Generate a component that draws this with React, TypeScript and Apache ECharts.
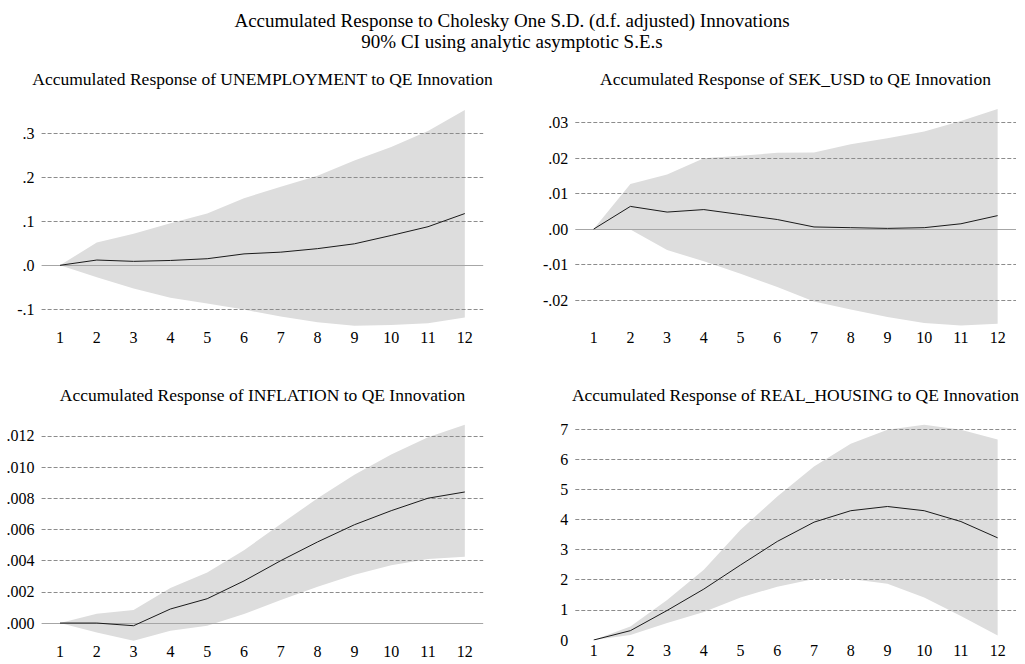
import React, { useEffect, useRef } from "react";
import * as echarts from "echarts";

const periods = ["1", "2", "3", "4", "5", "6", "7", "8", "9", "10", "11", "12"];

const mainTitle1 = "Accumulated Response to Cholesky One S.D. (d.f. adjusted) Innovations";
const mainTitle2 = "90% CI using analytic asymptotic S.E.s";

const panelTitles = [
  "Accumulated Response of UNEMPLOYMENT to QE Innovation",
  "Accumulated Response of SEK_USD to QE Innovation",
  "Accumulated Response of INFLATION to QE Innovation",
  "Accumulated Response of REAL_HOUSING to QE Innovation",
];

const unempResp = [0, 0.012, 0.009, 0.011, 0.015, 0.026, 0.03, 0.038, 0.049, 0.068, 0.088, 0.118];
const unempUpper = [0, 0.052, 0.072, 0.096, 0.118, 0.153, 0.179, 0.204, 0.239, 0.27, 0.306, 0.354];
const unempLower = [0, -0.027, -0.053, -0.074, -0.087, -0.101, -0.117, -0.13, -0.138, -0.136, -0.132, -0.119];

const sekResp = [0, 0.0064, 0.0048, 0.0055, 0.0041, 0.0027, 0.0006, 0.0004, 0.0002, 0.0004, 0.0015, 0.0038];
const sekUpper = [0, 0.0127, 0.0154, 0.02, 0.0207, 0.0215, 0.0216, 0.0239, 0.0256, 0.0275, 0.0305, 0.0339];
const sekLower = [0, -0.0001, -0.0059, -0.0091, -0.0126, -0.0163, -0.0204, -0.0227, -0.0248, -0.0265, -0.0272, -0.0267];

const inflResp = [0, 0.0, -0.00017, 0.0009, 0.00156, 0.0027, 0.004, 0.0052, 0.0063, 0.0072, 0.008, 0.0084];
const inflUpper = [0, 0.0006, 0.00083, 0.00224, 0.00324, 0.00467, 0.00634, 0.008, 0.0095, 0.0108, 0.0119, 0.0127];
const inflLower = [0, -0.0006, -0.00113, -0.0005, -0.00017, 0.00058, 0.00147, 0.00233, 0.0031, 0.0037, 0.0041, 0.00425];

const housResp = [0, 0.31, 0.98, 1.69, 2.49, 3.27, 3.91, 4.29, 4.43, 4.29, 3.93, 3.39];
const housUpper = [0, 0.45, 1.33, 2.33, 3.66, 4.76, 5.76, 6.51, 6.98, 7.14, 6.98, 6.65];
const housLower = [0, 0.17, 0.56, 0.93, 1.41, 1.77, 2.02, 2.02, 1.87, 1.41, 0.8, 0.15];

const unempTicks = [-0.1, 0, 0.1, 0.2, 0.3];
const unempTickLabels = ["-.1", ".0", ".1", ".2", ".3"];
const sekTicks = [-0.02, -0.01, 0, 0.01, 0.02, 0.03];
const sekTickLabels = ["-.02", "-.01", ".00", ".01", ".02", ".03"];
const inflTicks = [0, 0.002, 0.004, 0.006, 0.008, 0.01, 0.012];
const inflTickLabels = [".000", ".002", ".004", ".006", ".008", ".010", ".012"];
const housTicks = [0, 1, 2, 3, 4, 5, 6, 7];
const housTickLabels = ["0", "1", "2", "3", "4", "5", "6", "7"];

const FONT = "Liberation Serif";

export default function App() {
  const ref = useRef<HTMLDivElement>(null);

  useEffect(() => {
    document.body.style.margin = "0";
    if (!ref.current) return;
    const chart = echarts.init(ref.current, undefined, { renderer: "svg" });

    const panels = [
      {
        title: panelTitles[0], resp: unempResp, up: unempUpper, lo: unempLower,
        ticks: unempTicks, labels: unempTickLabels, min: -0.1407, max: 0.361, zeroLine: true,
        grid: { left: 41.6, top: 107, width: 441.6, height: 220 }, tx: 262.5, ty: 79,
      },
      {
        title: panelTitles[1], resp: sekResp, up: sekUpper, lo: sekLower,
        ticks: sekTicks, labels: sekTickLabels, min: -0.02761, max: 0.03443, zeroLine: true,
        grid: { left: 575.3, top: 107, width: 440.7, height: 220 }, tx: 795.5, ty: 79,
      },
      {
        title: panelTitles[2], resp: inflResp, up: inflUpper, lo: inflLower,
        ticks: inflTicks, labels: inflTickLabels, min: -0.00115, max: 0.01282, zeroLine: true,
        grid: { left: 41.6, top: 423, width: 441.6, height: 218 }, tx: 262.5, ty: 395,
      },
      {
        title: panelTitles[3], resp: housResp, up: housUpper, lo: housLower,
        ticks: housTicks, labels: housTickLabels, min: 0, max: 7.2, zeroLine: false,
        grid: { left: 575.3, top: 423, width: 440.7, height: 217 }, tx: 795.5, ty: 395,
      },
    ];

    const grids: any[] = [];
    const xAxes: any[] = [];
    const yAxes: any[] = [];
    const series: any[] = [];
    const graphics: any[] = [
      {
        type: "text", x: 512, y: 20,
        style: { text: mainTitle1, align: "center", verticalAlign: "middle", fontSize: 19, fontFamily: FONT, fill: "#000" },
      },
      {
        type: "text", x: 512, y: 41,
        style: { text: mainTitle2, align: "center", verticalAlign: "middle", fontSize: 19, fontFamily: FONT, fill: "#000" },
      },
    ];

    panels.forEach((p, i) => {
      grids.push({ ...p.grid, containLabel: false });
      xAxes.push({
        type: "category", gridIndex: i, data: periods, boundaryGap: true,
        axisLine: { show: false }, axisTick: { show: false }, splitLine: { show: false },
        axisLabel: { margin: 2, fontSize: 16, fontFamily: FONT, color: "#000" },
      });
      yAxes.push({
        type: "value", gridIndex: i, min: p.min, max: p.max,
        axisLine: { show: false }, axisTick: { show: false }, splitLine: { show: false },
        axisLabel: {
          margin: 7, fontSize: 16, fontFamily: FONT, color: "#000",
          customValues: p.ticks,
          formatter: (v: number) => {
            const k = p.ticks.findIndex((t) => Math.abs(t - v) < 1e-9);
            return k >= 0 ? p.labels[k] : "";
          },
        },
      });
      const diff = p.up.map((u, k) => u - p.lo[k]);
      series.push({
        type: "line", xAxisIndex: i, yAxisIndex: i, data: p.lo, stack: "band" + i, stackStrategy: "all",
        symbol: "none", lineStyle: { opacity: 0, width: 0 }, silent: true, z: 1,
      });
      series.push({
        type: "line", xAxisIndex: i, yAxisIndex: i, data: diff, stack: "band" + i, stackStrategy: "all",
        symbol: "none", lineStyle: { opacity: 0, width: 0 }, areaStyle: { color: "#dddddd", opacity: 1 }, silent: true, z: 1,
      });
      const markData: any[] = p.ticks
        .filter((t) => t !== 0)
        .map((t) => ({ yAxis: t, lineStyle: { type: [4, 2], color: "#8c8c8c", width: 1 } }));
      if (p.zeroLine) markData.push({ yAxis: 0, lineStyle: { type: "solid", color: "#a6a6a6", width: 1 } });
      series.push({
        type: "line", xAxisIndex: i, yAxisIndex: i, data: [], silent: true, z: 3,
        markLine: { symbol: "none", silent: true, precision: 8, label: { show: false }, animation: false, data: markData },
      });
      series.push({
        type: "line", xAxisIndex: i, yAxisIndex: i, data: p.resp, symbol: "none", silent: true, z: 5,
        lineStyle: { color: "#1a1a1a", width: 1 },
      });
      graphics.push({
        type: "text", x: p.tx, y: p.ty,
        style: { text: p.title, align: "center", verticalAlign: "middle", fontSize: 17.5, fontFamily: FONT, fill: "#000" },
      });
    });

    chart.setOption({
      animation: false,
      backgroundColor: "#ffffff",
      grid: grids,
      xAxis: xAxes,
      yAxis: yAxes,
      series,
      graphic: graphics,
    });

    return () => chart.dispose();
  }, []);

  return (
    <div
      ref={ref}
      style={{ position: "absolute", left: 0, top: 0, width: 1025, height: 664 }}
    />
  );
}
